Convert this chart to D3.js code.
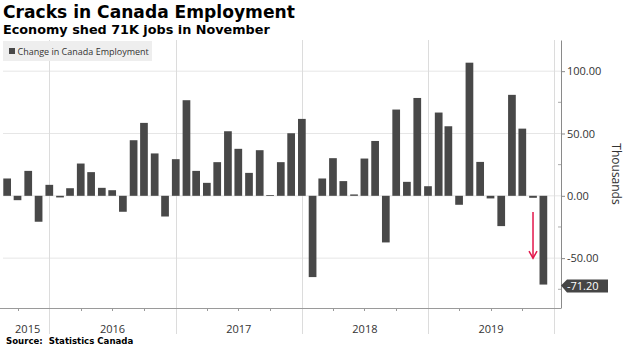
<!DOCTYPE html>
<html>
<head>
<meta charset="utf-8">
<script src="https://cdn.jsdelivr.net/npm/d3@7"></script>
<style>
  body { margin: 0; background: #fff; }
  svg { display: block; }
</style>
</head>
<body>
<svg id="chart"></svg>
<script>
// Monthly change in Canadian employment, thousands
const months = [
  "2015-08", "2015-09", "2015-10", "2015-11", "2015-12",
  "2016-01", "2016-02", "2016-03", "2016-04", "2016-05", "2016-06",
  "2016-07", "2016-08", "2016-09", "2016-10", "2016-11", "2016-12",
  "2017-01", "2017-02", "2017-03", "2017-04", "2017-05", "2017-06",
  "2017-07", "2017-08", "2017-09", "2017-10", "2017-11", "2017-12",
  "2018-01", "2018-02", "2018-03", "2018-04", "2018-05", "2018-06",
  "2018-07", "2018-08", "2018-09", "2018-10", "2018-11", "2018-12",
  "2019-01", "2019-02", "2019-03", "2019-04", "2019-05", "2019-06",
  "2019-07", "2019-08", "2019-09", "2019-10", "2019-11"
];
const changes = [
  13.9, -3.5, 20.0, -20.8, 8.8,
  -1.3, 6.1, 25.9, 19.0, 6.4, 4.5,
  -12.8, 44.6, 58.5, 34.0, -16.6, 29.4,
  76.7, 20.0, 10.4, 27.0, 51.8, 37.7,
  18.4, 36.6, 0.5, 27.0, 50.2, 61.7,
  -65.2, 13.9, 30.2, 11.8, 1.1, 29.9,
  44.0, -37.4, 69.2, 11.2, 78.5, 7.7,
  66.8, 55.8, -7.2, 106.8, 27.2, -2.1,
  -24.3, 81.0, 53.9, -1.6, -71.2
];
const yTicks = [-50, 0, 50, 100];
const yMinorTicks = [-75, -25, 25, 75];
const years = [2015, 2016, 2017, 2018, 2019];
const lastValue = -71.2;
const arrowFrom = -13, arrowTo = -50;   // red arrow, at the October 2019 bar

const width = 629, height = 354;
const plotTop = 40, plotBottom = 308, plotLeft = 3, plotRight = 561;

const parseMonth = d3.timeParse("%Y-%m");
const data = months.map((m, i) => ({ date: parseMonth(m), value: changes[i] }));

const svg = d3.select("#chart")
  .attr("width", width)
  .attr("height", height)
  .style("font-family", "'Open Sans', sans-serif");

// scales
const x = d3.scaleTime()
  .domain([new Date(2015, 7, 20), new Date(2020, 0, 21)])
  .range([plotLeft, plotRight]);

const y = d3.scaleLinear()
  .domain([-90, 125])
  .range([plotBottom, plotTop]);

// bars are drawn at month end
const barX = d => x(d3.timeMonth.offset(d.date, 1));
const barW = (x(new Date(2016, 1, 1)) - x(new Date(2016, 0, 1))) * 0.72;

// horizontal grid
svg.append("g")
  .selectAll("line")
  .data(yTicks)
  .join("line")
  .attr("x1", plotLeft)
  .attr("x2", plotRight)
  .attr("y1", d => y(d))
  .attr("y2", d => y(d))
  .attr("stroke", "#e6e6e6")
  .attr("stroke-width", 1);

// year separators (run down past the axis)
const yearBounds = years.slice(1).map(yr => new Date(yr, 0, 1)).concat([new Date(2020, 0, 1)]);
svg.append("g")
  .selectAll("line")
  .data(yearBounds)
  .join("line")
  .attr("x1", d => Math.round(x(d)) + 0.5)
  .attr("x2", d => Math.round(x(d)) + 0.5)
  .attr("y1", plotTop)
  .attr("y2", 334)
  .attr("stroke", "#dcdcdc")
  .attr("stroke-width", 1);

// bars
svg.append("g")
  .selectAll("rect")
  .data(data)
  .join("rect")
  .attr("x", d => barX(d) - barW / 2)
  .attr("width", barW)
  .attr("y", d => y(Math.max(0, d.value)))
  .attr("height", d => Math.max(0.8, Math.abs(y(d.value) - y(0))))
  .attr("fill", "#484848");

// bottom axis line + quarter ticks
svg.append("line")
  .attr("x1", 0).attr("x2", plotRight)
  .attr("y1", plotBottom + 0.5).attr("y2", plotBottom + 0.5)
  .attr("stroke", "#9a9a9a");

const quarterTicks = d3.timeMonth.every(3).range(x.domain()[0], x.domain()[1])
  .filter(d => d.getMonth() !== 0);
svg.append("g")
  .selectAll("line")
  .data(quarterTicks)
  .join("line")
  .attr("x1", d => Math.round(x(d)) + 0.5)
  .attr("x2", d => Math.round(x(d)) + 0.5)
  .attr("y1", plotBottom)
  .attr("y2", plotBottom + 3)
  .attr("stroke", "#9a9a9a");

// year labels centred in their visible span
svg.append("g")
  .selectAll("text")
  .data(years)
  .join("text")
  .attr("x", yr => {
    const a = Math.max(x(new Date(yr, 0, 1)), plotLeft + 3);
    const b = Math.min(x(new Date(yr + 1, 0, 1)), plotRight);
    return (a + b) / 2;
  })
  .attr("y", 333)
  .attr("text-anchor", "middle")
  .attr("font-size", "11px")
  .attr("fill", "#333")
  .text(yr => yr);

// right axis
const yAxis = svg.append("g")
  .attr("transform", `translate(${plotRight},0)`)
  .call(d3.axisRight(y)
    .tickValues(yTicks)
    .tickFormat(d => d.toFixed(2))
    .tickSize(4)
    .tickSizeOuter(0)
    .tickPadding(2));
yAxis.select(".domain").attr("stroke", "#8a8a8a");
yAxis.selectAll(".tick line").attr("stroke", "#8a8a8a");
yAxis.selectAll(".tick text")
  .attr("font-family", "'Open Sans', sans-serif")
  .attr("font-size", "11px")
  .attr("fill", "#333");

svg.append("g")
  .selectAll("line")
  .data(yMinorTicks)
  .join("line")
  .attr("x1", plotRight - 3)
  .attr("x2", plotRight)
  .attr("y1", d => y(d))
  .attr("y2", d => y(d))
  .attr("stroke", "#aaa");

svg.append("text")
  .attr("transform", `translate(612,174) rotate(90)`)
  .attr("text-anchor", "middle")
  .attr("font-size", "12px")
  .attr("fill", "#333")
  .text("Thousands");

// last value tag
const tagY = y(lastValue) + 1;
svg.append("path")
  .attr("d", `M${plotRight},${tagY} L${plotRight + 6},${tagY - 6} L${plotRight + 47},${tagY - 6}
              L${plotRight + 47},${tagY + 7} L${plotRight + 6},${tagY + 7} Z`)
  .attr("fill", "#454545");
svg.append("text")
  .attr("x", plotRight + 6)
  .attr("y", tagY + 4.5)
  .attr("font-size", "11px")
  .attr("fill", "#fff")
  .text(lastValue.toFixed(2));

// red arrow over the October bar
const arrowX = barX(data[data.length - 2]);
svg.append("line")
  .attr("x1", arrowX).attr("x2", arrowX)
  .attr("y1", y(arrowFrom)).attr("y2", y(arrowTo))
  .attr("stroke", "#e3174b")
  .attr("stroke-width", 1.5);
svg.append("path")
  .attr("d", `M${arrowX - 4},${y(arrowTo) - 7} L${arrowX},${y(arrowTo)} L${arrowX + 4},${y(arrowTo) - 7}`)
  .attr("fill", "none")
  .attr("stroke", "#e3174b")
  .attr("stroke-width", 1.5);

// legend
const legend = svg.append("g").attr("transform", "translate(3,41)");
legend.append("rect")
  .attr("width", 149)
  .attr("height", 20)
  .attr("fill", "#eeeeee");
legend.append("rect")
  .attr("x", 6).attr("y", 7)
  .attr("width", 6).attr("height", 6)
  .attr("fill", "#484848");
legend.append("text")
  .attr("x", 14.5)
  .attr("y", 13.5)
  .attr("font-size", "9px")
  .attr("fill", "#333")
  .text("Change in Canada Employment");

// titles
svg.append("text")
  .attr("x", 3)
  .attr("y", 18)
  .attr("font-family", "'DejaVu Sans', sans-serif")
  .attr("font-weight", "bold")
  .attr("font-size", "17.1px")
  .attr("fill", "#000")
  .text("Cracks in Canada Employment");

svg.append("text")
  .attr("x", 3)
  .attr("y", 34)
  .attr("font-family", "'DejaVu Sans', sans-serif")
  .attr("font-weight", "bold")
  .attr("font-size", "12.8px")
  .attr("fill", "#000")
  .text("Economy shed 71K jobs in November");

svg.append("text")
  .attr("x", 6)
  .attr("y", 344)
  .attr("font-family", "'DejaVu Sans', sans-serif")
  .attr("font-weight", "bold")
  .attr("font-size", "8.6px")
  .attr("fill", "#000")
  .attr("xml:space", "preserve")
  .text("Source:  Statistics Canada");
</script>
</body>
</html>
